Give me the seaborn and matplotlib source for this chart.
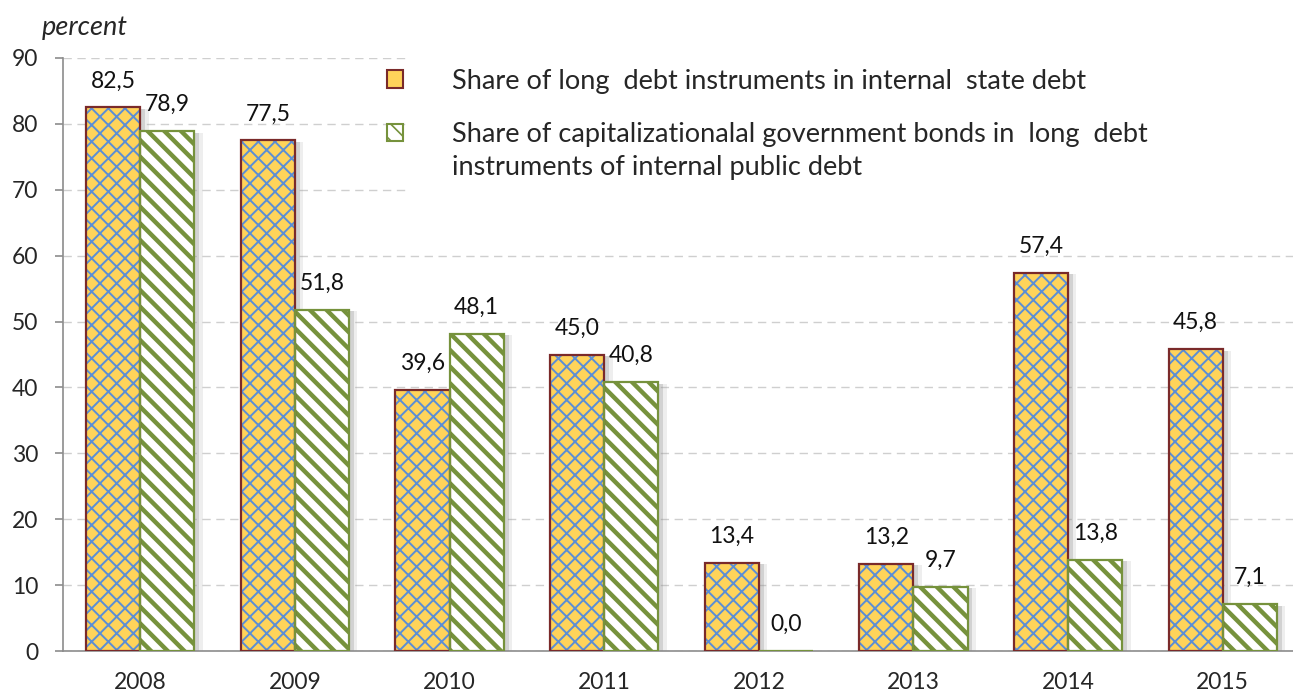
import matplotlib
matplotlib.use("Agg")
import matplotlib.pyplot as plt
import matplotlib.patheffects as pe
from matplotlib.patches import Patch, Rectangle
import numpy as np
import pandas as pd
import seaborn as sns

years = ["2008", "2009", "2010", "2011", "2012", "2013", "2014", "2015"]
long_share = [82.5, 77.5, 39.6, 45.0, 13.4, 13.2, 57.4, 45.8]
cap_share = [78.9, 51.8, 48.1, 40.8, 0.0, 9.7, 13.8, 7.1]
series_names = [
    "Share of long  debt instruments in internal  state debt",
    "Share of capitalizationalal government bonds in  long  debt\ninstruments of internal public debt",
]

df = pd.DataFrame({
    "year": years * 2,
    "value": long_share + cap_share,
    "series": [series_names[0]] * len(years) + [series_names[1]] * len(years),
})

sns.set_theme(style="white")
plt.rcParams["font.family"] = ["Lato", "DejaVu Sans"]
plt.rcParams["hatch.linewidth"] = 1.2

W, H = 1293, 695
fig = plt.figure(figsize=(W / 100, H / 100), dpi=100)
ax = fig.add_axes([63 / W, 1 - 651 / H, 1237 / W, (651 - 58) / H])

yellow = "#FFD35A"
brick_blue = "#5B8ED6"
red_edge = "#7A2A2A"
green = "#76923C"
text_fs = 16.5
legend_fs = 19.5

sns.barplot(data=df, x="year", y="value", hue="series", order=years,
            hue_order=series_names, width=0.7, ax=ax, legend=False,
            palette=[yellow, "white"], saturation=1, linewidth=0, errorbar=None)

# fill + hatch for each series, with soft shadow and outline drawn from the same bars
styles = [(yellow, brick_blue, "xx", red_edge, 1.4),
          ("white", green, "\\\\", green, 3.2)]
n = len(years)
bars = list(ax.patches[: 2 * n])
for i, bar in enumerate(bars):
    face, hcol, hatch, edge, hlw = styles[i // n]
    bar.set_facecolor(face)
    bar.set_hatch(hatch)
    bar.set_edgecolor(hcol)
    bar.set_linewidth(0)
    bar.set_zorder(2)
    if hasattr(bar, "set_hatch_linewidth"):
        bar.set_hatch_linewidth(hlw)
    x0, w, h = bar.get_x(), bar.get_width(), bar.get_height()
    shadow = ax.bar(x0, h, width=w, align="edge", color="none", linewidth=0, zorder=1)[0]
    shadow.set_path_effects([
        pe.SimplePatchShadow(offset=(6, -1), shadow_rgbFace="#9a9a9a", alpha=0.16),
        pe.SimplePatchShadow(offset=(3.5, -1), shadow_rgbFace="#8a8a8a", alpha=0.28),
    ])
    ax.bar(x0, h, width=w, align="edge", fill=False, edgecolor=edge, linewidth=1.6, zorder=3)

# value labels above bars
for i, bar in enumerate(bars):
    val = long_share[i] if i < n else cap_share[i - n]
    ax.annotate(f"{val:.1f}".replace(".", ","),
                (bar.get_x() + bar.get_width() / 2, val),
                xytext=(0, 19), textcoords="offset points",
                ha="center", va="center", fontsize=text_fs, color="#111111")

ax.set_ylim(0, 90)
ax.set_xlim(-0.5, 7.5)
ax.set_yticks(np.arange(0, 91, 10))
ax.set_xlabel("")
ax.set_ylabel("")
ax.grid(axis="y", color="#CFCFCF", linestyle=(0, (6, 4)), linewidth=1.0)
ax.set_axisbelow(True)

ax.set_xticks(np.arange(-0.5, 7.6, 1), minor=True)
ax.tick_params(axis="x", which="major", length=0, labelsize=text_fs, pad=15)
ax.tick_params(axis="x", which="minor", length=8, width=1.2, color="#8C8C8C", direction="out")
ax.tick_params(axis="y", which="major", length=6, width=1.2, color="#8C8C8C",
               direction="out", labelsize=text_fs, left=True, pad=12)
for s in ["top", "right"]:
    ax.spines[s].set_visible(False)
for s in ["left", "bottom"]:
    ax.spines[s].set_color("#8C8C8C")
    ax.spines[s].set_linewidth(1.2)

fig.text(42 / W, 1 - 27 / H, "percent", fontsize=legend_fs, style="italic",
         va="center", ha="left")

# white legend area over the grid
ax.add_patch(Rectangle((410 / W, 1 - 197 / H), (W - 410) / W, 145 / H,
                       transform=fig.transFigure, facecolor="white",
                       edgecolor="none", zorder=0.8, clip_on=False))

h1 = Patch(facecolor=yellow, edgecolor=red_edge, linewidth=1.5)
h2 = Patch(facecolor="white", edgecolor=green, hatch="\\\\", linewidth=1.5)
blank = Patch(facecolor="none", edgecolor="none")
line_a, line_b = series_names[1].split("\n")

common = dict(frameon=False, fontsize=legend_fs, handlelength=0.6, handleheight=0.6,
              handletextpad=1.8, borderpad=0, borderaxespad=0, loc="center left")
leg1 = fig.legend([h1], [series_names[0]], bbox_to_anchor=(387 / W, 1 - 81 / H), **common)
leg2 = fig.legend([h2, blank], [line_a, line_b], bbox_to_anchor=(387 / W, 1 - 151 / H),
                  labelspacing=0.3, **common)

fig.savefig("out.png", dpi=100)
